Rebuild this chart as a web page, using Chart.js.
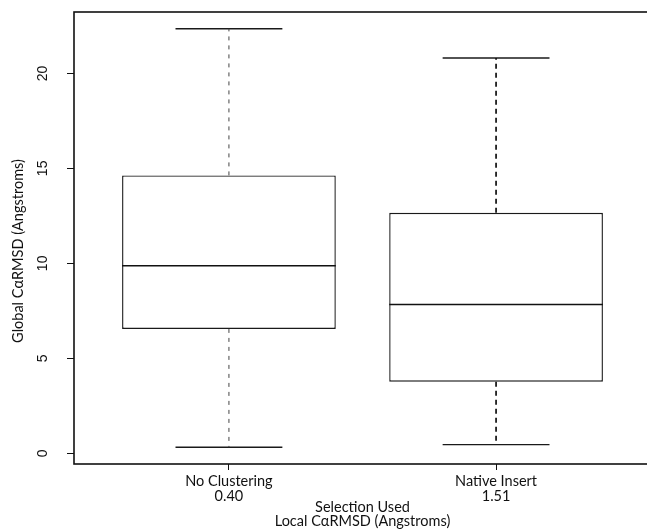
<!DOCTYPE html>
<html>
<head>
<meta charset="utf-8">
<script src="https://cdn.jsdelivr.net/npm/chart.js@4/dist/chart.umd.min.js"></script>
<style>
  html, body { margin: 0; padding: 0; background: #fff; overflow: hidden; }
  #wrap { width: 660px; height: 529px; }
</style>
</head>
<body>
<div id="wrap"><canvas id="c" width="660" height="529"></canvas></div>
<script>
// Box-plot summaries of global C-alpha RMSD per selection method
const groups = ['No Clustering', 'Native Insert'];
const localRmsd = ['0.40', '1.51'];
const positions = [1, 2];
const whiskerLow = [0.32, 0.46];
const lowerQuartile = [6.55, 3.77];
const median = [9.88, 7.83];
const upperQuartile = [14.63, 12.66];
const whiskerHigh = [22.35, 20.81];
const yTicks = [0, 5, 10, 15, 20];

// Box and staple half-widths in axis units (R boxplot defaults)
const BOX_HALF = 0.4;
const CAP_HALF = 0.2;
const whiskerStyle = [
  { width: 1, color: '#444', dash: [4, 5] },
  { width: 1.7, color: '#111', dash: [5, 4] }
];

// Axis ranges padded by 4% like R's default
const lo = Math.min(...whiskerLow), hi = Math.max(...whiskerHigh);
const yPad = (hi - lo) * 0.04;
const xSpan = positions.length;
const xMin = 0.5 - 0.04 * xSpan;
const xMax = positions.length + 0.5 + 0.04 * xSpan;

const LABEL_FONT = 'Lato, "Liberation Sans", sans-serif';
const NUM_FONT = '"Liberation Sans", Arial, sans-serif';

function seg(x1, y1, x2, y2, style) {
  return {
    type: 'line',
    data: [{ x: x1, y: y1 }, { x: x2, y: y2 }],
    borderColor: style.color,
    borderWidth: style.width,
    borderDash: style.dash || [],
    pointRadius: 0,
    fill: false,
    order: 0
  };
}

const datasets = [{
  type: 'bar',
  data: positions.map((p, i) => ({ x: p, y: [lowerQuartile[i], upperQuartile[i]] })),
  backgroundColor: '#fff',
  borderColor: '#1a1a1a',
  borderWidth: 1.4,
  borderSkipped: false,
  barPercentage: BOX_HALF * 2,
  categoryPercentage: 1,
  order: 1
}];

positions.forEach((p, i) => {
  const ws = whiskerStyle[i];
  const solid = { width: 1.4, color: '#1a1a1a' };
  datasets.push(seg(p, upperQuartile[i], p, whiskerHigh[i], ws));
  datasets.push(seg(p, lowerQuartile[i], p, whiskerLow[i], ws));
  datasets.push(seg(p - CAP_HALF, whiskerHigh[i], p + CAP_HALF, whiskerHigh[i], solid));
  datasets.push(seg(p - CAP_HALF, whiskerLow[i], p + CAP_HALF, whiskerLow[i], solid));
  datasets.push(seg(p - BOX_HALF, median[i], p + BOX_HALF, median[i], { width: 1.5, color: '#111' }));
});

// Plot frame, rotated y tick labels and y axis title
const decorations = {
  id: 'decorations',
  afterDraw(chart) {
    const { ctx, chartArea: a, scales: { y } } = chart;
    ctx.save();
    ctx.strokeStyle = '#111';
    ctx.lineWidth = 1.6;
    ctx.strokeRect(a.left, a.top, a.right - a.left, a.bottom - a.top);

    ctx.fillStyle = '#111';
    ctx.textAlign = 'center';
    ctx.textBaseline = 'middle';
    ctx.font = '14px ' + NUM_FONT;
    y.ticks.forEach(t => {
      ctx.save();
      ctx.translate(43, y.getPixelForValue(t.value));
      ctx.rotate(-Math.PI / 2);
      ctx.fillText(String(t.value), 0, 0);
      ctx.restore();
    });

    ctx.font = '14.5px ' + LABEL_FONT;
    ctx.translate(18, 251);
    ctx.rotate(-Math.PI / 2);
    ctx.fillText('Global C\u03B1RMSD (Angstroms)', 0, 0);
    ctx.restore();
  }
};

new Chart(document.getElementById('c'), {
  data: { datasets },
  plugins: [decorations],
  options: {
    responsive: false,
    animation: false,
    devicePixelRatio: 1,
    layout: { padding: { top: 12, right: 9, left: 0, bottom: 0 } },
    plugins: { legend: { display: false }, tooltip: { enabled: false } },
    scales: {
      x: {
        type: 'linear',
        offset: false,
        min: xMin,
        max: xMax,
        afterBuildTicks: s => { s.ticks = positions.map(v => ({ value: v })); },
        afterFit: s => { s.height = 65; },
        border: { display: false },
        grid: { offset: false, drawOnChartArea: false, drawTicks: true, tickLength: 6, color: '#111' },
        ticks: {
          autoSkip: false,
          maxRotation: 0,
          padding: 3.5,
          color: '#111',
          font: { family: LABEL_FONT, size: 14.5, lineHeight: '15.5px' },
          callback: (v, i) => [groups[i], localRmsd[i]]
        },
        title: {
          display: true,
          text: ['Selection Used', 'Local C\u03B1RMSD (Angstroms)'],
          color: '#111',
          font: { family: LABEL_FONT, size: 14.5, lineHeight: '14.5px' },
          padding: { top: 0, bottom: 0 }
        }
      },
      y: {
        type: 'linear',
        min: lo - yPad,
        max: hi + yPad,
        afterBuildTicks: s => { s.ticks = yTicks.map(v => ({ value: v })); },
        afterFit: s => { s.width = 74; },
        border: { display: false },
        grid: { drawOnChartArea: false, drawTicks: true, tickLength: 7, color: '#111' },
        ticks: { display: false }
      }
    }
  }
});
</script>
</body>
</html>
